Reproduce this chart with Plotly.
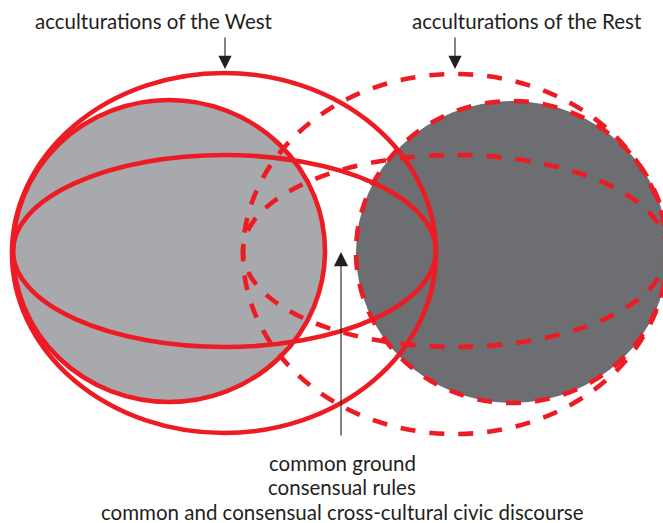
import plotly.graph_objects as go

# ---- diagram data ----
ellipse_names = ["west_outer", "west_flat", "west_circle", "rest_outer", "rest_flat", "rest_circle"]
ellipse_x0 = [12, 13, 13, 243, 243, 356]
ellipse_x1 = [436, 436, 325, 667, 667, 668]
ellipse_y0 = [73, 155, 100, 74, 155, 101]
ellipse_y1 = [433, 347, 402, 434, 347, 403]
ellipse_dash = ["solid", "solid", "solid", "15px,14px", "15px,14px", "15px,14px"]
circle_fills = {"west_circle": "#a7a9ac", "rest_circle": "#6d6e71"}

top_labels = ["acculturations of the West", "acculturations of the Rest"]
top_label_x = [153.5, 526.5]
top_arrow_x = [225, 455]

bottom_labels = ["common ground", "consensual rules",
                 "common and consensual cross-cultural civic discourse"]
bottom_label_y = [463, 487, 512]
bottom_arrow_x = 341

RED = "#ed1c24"
INK = "#231f20"
FONT = "Lato"

WIN_W, WIN_H = 663, 523

fig = go.Figure()
fig.add_trace(go.Scatter(x=[0, WIN_W], y=[0, WIN_H], mode="markers",
                         marker=dict(opacity=0), hoverinfo="skip", showlegend=False))

shapes = []
for i, n in enumerate(ellipse_names):
    if n in circle_fills:
        shapes.append(dict(type="circle", xref="x", yref="y",
                           x0=ellipse_x0[i], x1=ellipse_x1[i], y0=ellipse_y0[i], y1=ellipse_y1[i],
                           fillcolor=circle_fills[n], line=dict(width=0), layer="above"))
order = [3, 4, 5, 0, 1, 2]
for i in order:
    shapes.append(dict(type="circle", xref="x", yref="y",
                       x0=ellipse_x0[i], x1=ellipse_x1[i], y0=ellipse_y0[i], y1=ellipse_y1[i],
                       fillcolor="rgba(0,0,0,0)",
                       line=dict(color=RED, width=4.6, dash=ellipse_dash[i]), layer="above"))

annotations = []
for t, tx, axx in zip(top_labels, top_label_x, top_arrow_x):
    annotations.append(dict(text=t, x=tx, y=21, xref="x", yref="y", showarrow=False,
                            xanchor="center", yanchor="middle",
                            font=dict(family=FONT, size=20.5, color=INK)))
    annotations.append(dict(text="", x=axx, y=69, xref="x", yref="y",
                            ax=axx, ay=36, axref="x", ayref="y", showarrow=True,
                            arrowhead=2, arrowsize=2.4, arrowwidth=1.1, arrowcolor=INK,
                            standoff=0))
for t, ty in zip(bottom_labels, bottom_label_y):
    annotations.append(dict(text=t, x=bottom_arrow_x + 1, y=ty, xref="x", yref="y", showarrow=False,
                            xanchor="center", yanchor="middle",
                            font=dict(family=FONT, size=20.5, color=INK)))
annotations.append(dict(text="", x=bottom_arrow_x, y=252, xref="x", yref="y",
                        ax=bottom_arrow_x, ay=437, axref="x", ayref="y", showarrow=True,
                        arrowhead=2, arrowsize=2.6, arrowwidth=1.1, arrowcolor=INK,
                        standoff=0))

fig.update_layout(
    width=WIN_W, height=WIN_H,
    margin=dict(l=0, r=0, t=0, b=0),
    paper_bgcolor="white", plot_bgcolor="white",
    shapes=shapes, annotations=annotations,
    xaxis=dict(range=[0, WIN_W], visible=False, fixedrange=True),
    yaxis=dict(range=[WIN_H, 0], visible=False, fixedrange=True),
    showlegend=False,
)
fig.write_html(
    "out.html",
    config={"displayModeBar": False},
    post_script="document.body.style.margin='0';document.body.style.overflow='hidden';",
)
